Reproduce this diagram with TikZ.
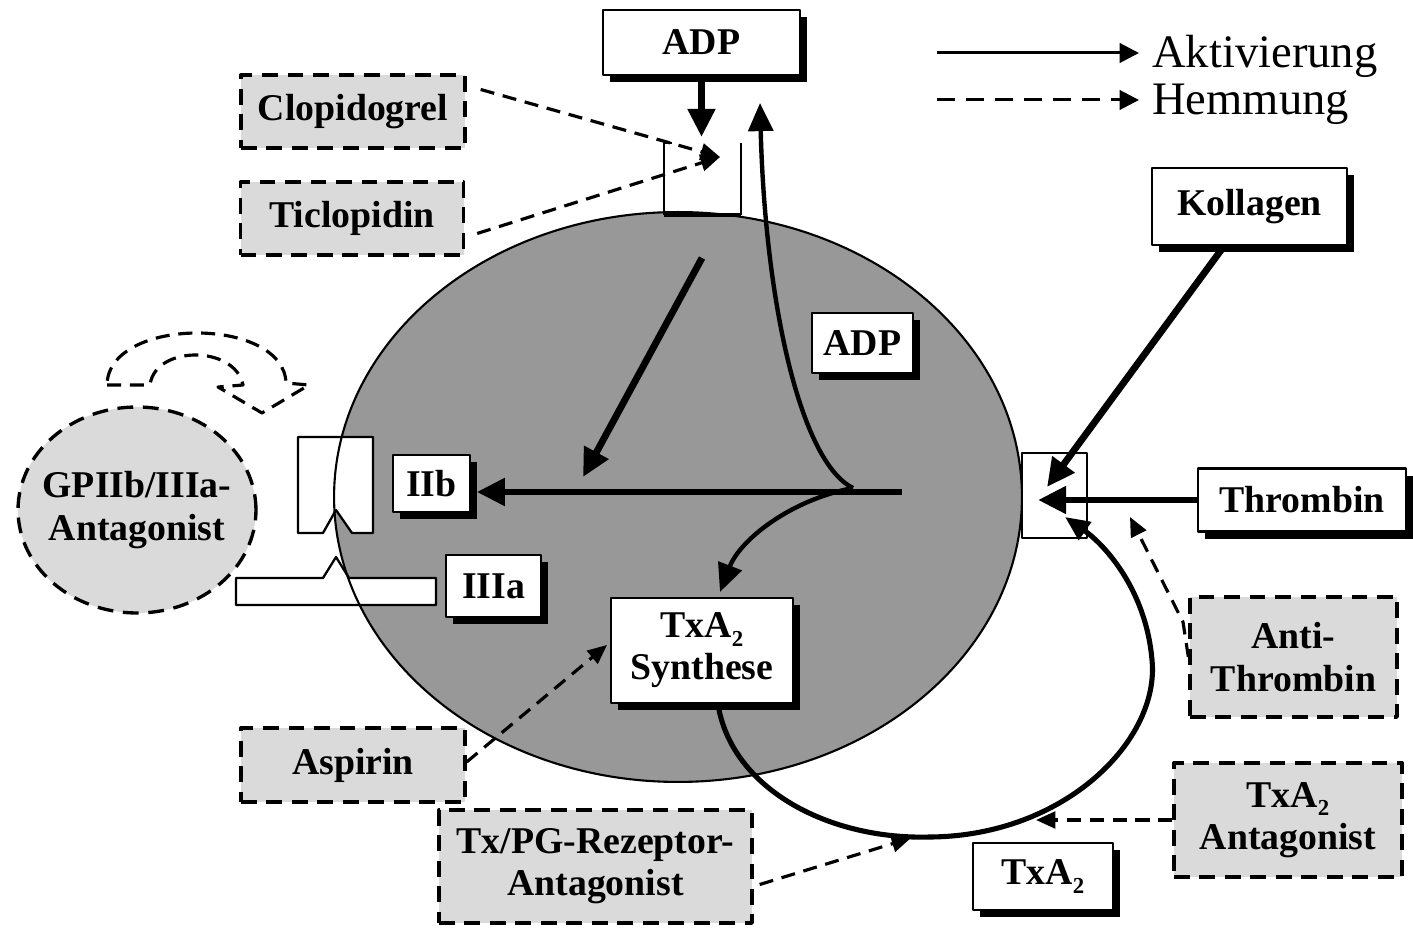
\documentclass[tikz,border=0pt]{standalone}
\usepackage{fontspec}
\setmainfont{Liberation Serif}
\usetikzlibrary{arrows.meta,shadows,calc}
\definecolor{ellg}{RGB}{152,152,152}
\definecolor{boxg}{RGB}{218,218,218}
\newcommand\lblfont{\fontsize{21.5pt}{24pt}\selectfont\bfseries}
\newcommand\subtwo{\raisebox{-0.5ex}{\fontsize{13pt}{13pt}\selectfont 2}}
\begin{document}
\begin{tikzpicture}[x=0.02cm,y=-0.02cm,line join=round,
  lbl/.style={font=\lblfont,align=center,inner sep=0pt},
  sz/.style 2 args={minimum width=#1*0.02cm,minimum height=#2*0.02cm},
  sbox/.style={lbl,draw,line width=1.6pt,fill=white,general shadow={fill=black,shadow xshift=3.8pt,shadow yshift=-4.2pt}},
  dbox/.style={lbl,draw,line width=1.9pt,dash pattern=on 9pt off 5.5pt,fill=boxg},
  thickarr/.style={line width=3.9pt,-{Triangle[length=16pt,width=15pt]}},
  curvarr/.style={line width=2.5pt,-{Triangle[length=16pt,width=14pt]}},
  looparr/.style={line width=2.9pt,-{Triangle[length=14pt,width=12pt]}},
  dasharr/.style={line width=1.8pt,dash pattern=on 8pt off 5pt,-{Triangle[length=11pt,width=9.5pt]}},
  recep/.style={draw,line width=1.3pt,fill=white},
  legarr/.style={line width=1.7pt,-{Triangle[length=11pt,width=11pt]}},
  legtxt/.style={font=\fontsize{26.5pt}{28pt}\selectfont,inner sep=0pt,anchor=base west}
]
\useasboundingbox (0,0) rectangle (1413,928);

% platelet body
\fill[ellg] (678,497) ellipse [x radius=6.88cm, y radius=5.7cm];

% GPIIb/IIIa receptor
\draw[recep] (298,437) -- (373,437) -- (373,533) -- (352,533) -- (336,510) -- (323,533) -- (298,533) -- cycle;
\draw[recep] (236,605) -- (236,578) -- (323,578) -- (336,557) -- (349,578) -- (436,578) -- (436,605) -- cycle;
% thrombin / collagen receptor
\draw[recep] (1022,453) rectangle (1087,538);

\draw[line width=1.2pt] (678,497) ellipse [x radius=6.88cm, y radius=5.7cm];

% ADP receptor
\draw[line width=1.3pt] (672,143) -- (664,143) -- (664,215);
\draw[line width=1.3pt] (741,143) -- (741,215);
\draw[line width=2.4pt] (664,215) -- (741,215);

% GP antagonist
\filldraw[fill=boxg,line width=1.9pt,dash pattern=on 9pt off 5.5pt] (137,510) ellipse [x radius=2.38cm, y radius=2.06cm];
\node[lbl] (gp) at (137,510) {GPIIb/IIIa-\\Antagonist};
\draw[line width=1.8pt,dash pattern=on 8pt off 5pt] (107,385) -- (150,385)
  .. controls (155,345) and (235,345) .. (243,385) -- (218,387) -- (262,413) -- (309,385) -- (286,383)
  .. controls (284,316) and (108,316) .. (107,385) -- cycle;

% nodes
\node[sbox,sz={197}{65}] (adpT) at (701.5,42.5) {ADP};
\node[dbox,sz={224}{73}] (clop) at (353,111.5) {Clopidogrel};
\node[dbox,sz={223}{73}] (ticl) at (352,218.5) {Ticlopidin};
\node[sbox,sz={195}{77}] (koll) at (1249.5,206.5) {Kollagen};
\node[sbox,sz={101}{60}] (adpI) at (862.5,343) {ADP};
\node[sbox,sz={77}{57}] (IIb) at (431.5,483.5) {IIb};
\node[sbox,sz={95}{62}] (IIIa) at (493.5,586) {IIIa};
\node[sbox,sz={208}{63}] (thromb) at (1302,500) {Thrombin};
\node[dbox,sz={207}{120}] (anti) at (1293.5,657) {Anti-\\Thrombin};
\node[sbox,sz={182}{105}] (synth) at (702,650.5) {TxA\subtwo\\Synthese};
\node[dbox,sz={224}{74}] (aspirin) at (353,765) {Aspirin};
\node[dbox,sz={313}{113}] (txpg) at (595.5,866.5) {Tx/PG-Rezeptor-\\Antagonist};
\node[sbox,sz={140}{67}] (txa) at (1043,876.5) {TxA\subtwo};
\node[dbox,sz={228}{114}] (txant) at (1288,820) {TxA\subtwo\\Antagonist};

% legend
\node[legtxt] (legA) at (1152,68) {Aktivierung};
\node[legtxt] (legH) at (1152,115) {Hemmung};
\coordinate (legS1) at (937,53);
\coordinate (legS2) at (937,100);
\draw[legarr] (legS1) -- (legS1 -| 1139,0);
\draw[legarr,dash pattern=on 10pt off 6.5pt] (legS2) -- (legS2 -| 1139,0);

% coordinates
\coordinate (recTop) at (701.5,137);
\coordinate (cusp) at (853,488);
\coordinate (adpUp) at (760,103);
\coordinate (synthIn) at (720,592);
\coordinate (diagS) at (702,258);
\coordinate (diagE) at (583,477);
\coordinate (hstart) at (902,492);
\coordinate (recR1) at (1047,487);
\coordinate (recR2) at (1038,500);
\coordinate (recR3) at (1065,517);
\coordinate (clopT) at (720,157);
\coordinate (aspT) at (607,645);
\coordinate (loopT) at (911,838);
\coordinate (antT) at (1036,820);
\coordinate (antiT) at (1130,517);

% activation arrows
\draw[thickarr] (adpT.south) -- (recTop);
\draw[curvarr] (cusp) .. controls (800,462) and (765,300) .. (adpUp);
\draw[curvarr] (cusp) .. controls (790,500) and (740,540) .. (synthIn);
\draw[thickarr] (diagS) -- (diagE);
\draw[thickarr,shorten >=3pt] (hstart) -- (IIb.east |- hstart);
\draw[thickarr] ($(koll.south west)!0.37!(koll.south east)$) -- (recR1);
\draw[thickarr] (thromb.west) -- (recR2);
\draw[looparr] ($(synth.south)+(16,0)$) .. controls (732,790) and (830,840) .. (930,837)
  .. controls (1065,836) and (1160,740) .. (1152,660)
  .. controls (1146,590) and (1105,545) .. (recR3);

% inhibition arrows
\draw[dasharr] ($(clop.east)+(14,-22)$) -- (clopT);
\draw[dasharr] ($(ticl.east)+(12,15)$) -- (clopT);
\draw[dasharr] ($(aspirin.east)+(0,-3)$) -- (aspT);
\draw[dasharr] ($(txpg.east)+(6,18)$) -- (loopT);
\draw[dasharr] (txant.west) -- (antT);
\draw[dasharr] (anti.west) -- (1183,622) -- (antiT);
\end{tikzpicture}
\end{document}
